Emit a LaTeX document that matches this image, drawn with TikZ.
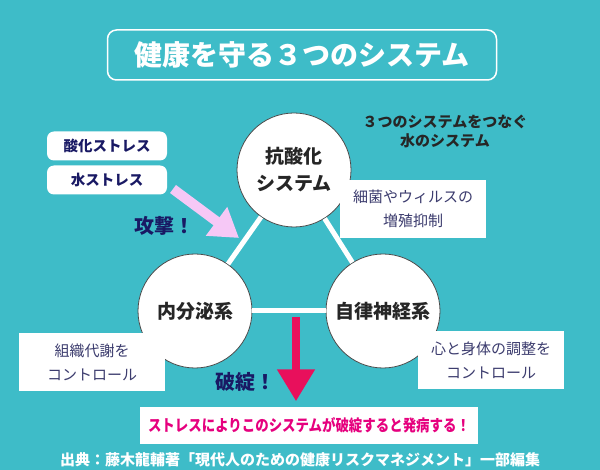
\documentclass[tikz,border=0pt]{standalone}
\usepackage{fontspec}
\setmainfont{Noto Sans CJK JP}
\newfontfamily\narrowjp{Noto Sans CJK JP}[FakeStretch=0.84]
\usepackage{xcolor}
\usetikzlibrary{positioning,arrows.meta}

\definecolor{bgteal}{RGB}{62,188,200}
\definecolor{navy}{RGB}{25,25,100}
\definecolor{inkgray}{RGB}{38,38,38}
\definecolor{boxink}{RGB}{60,60,110}
\definecolor{attackpink}{RGB}{246,200,246}
\definecolor{breakred}{RGB}{232,16,92}
\definecolor{msgpink}{RGB}{230,0,126}

\tikzset{
  sysnode/.style={circle, draw=gray!60!black, line width=0.8, fill=white,
    minimum size=114, inner sep=0, align=center, text=inkgray,
    font=\bfseries\fontsize{19}{27}\selectfont},
  link/.style={white, line width=5},
  stressbox/.style={rounded corners=7, fill=white, minimum width=120,
    minimum height=29, inner sep=0, text=navy,
    font=\bfseries\fontsize{14.5}{16}\selectfont},
  rolebox/.style={fill=white, align=center, text=boxink, minimum width=146,
    minimum height=58, inner sep=0, font=\fontsize{15}{24}\selectfont},
  shout/.style={text=navy, font=\bfseries\fontsize{20}{22}\selectfont},
}

\begin{document}
\begin{tikzpicture}[x=1pt, y=-1pt]
% background, same size as the reference
\fill[bgteal] (0,0) rectangle (600,470);
\useasboundingbox (0,0) rectangle (600,470);
% title
\node[draw=white, line width=1.5, rounded corners=9, minimum width=389,
  minimum height=50, text=white, font=\bfseries\fontsize{28}{30}\selectfont]
  (title) at (302,55) {健康を守る３つのシステム};
% the three systems
\node[sysnode] (antiox) at (294,170) {抗酸化\\システム};
\node[sysnode] (endo) at (195,311) {内分泌系};
\node[sysnode] (auto) at (383,311) {自律神経系};
\draw[link] (antiox) -- (endo);
\draw[link] (antiox) -- (auto);
\draw[link] (endo) -- (auto);
\node[text=inkgray, align=center, font=\bfseries\fontsize{15}{19}\selectfont]
  (water) at (445,131) {３つのシステムをつなぐ\\水のシステム};
% stresses attack
\node[stressbox] (oxstress) at (107,146) {酸化ストレス};
\node[stressbox] (wstress) at (107,180) {水ストレス};
\coordinate (atk0) at (173,189);
\coordinate (atk1) at (239,238);
\draw[attackpink, line width=10, -{Triangle[length=28pt,width=34pt]}] (atk0) -- (atk1);
\node[shout] (attack) at (164,226) {攻撃！};
% roles of each system
\node[rolebox] (germ) at (413,209) {細菌やウィルスの\\増殖抑制};
\node[rolebox] (metab) at (92,362) {組織代謝を\\コントロール};
\node[rolebox] (mind) at (491,360) {心と身体の調整を\\コントロール};
% breakdown
\node[fill=white, minimum width=338, minimum height=37, inner sep=0,
  text=msgpink, font=\narrowjp\bfseries\fontsize{16}{18}\selectfont]
  (msg) at (309,425) {ストレスによりこのシステムが破綻すると発病する！};
\coordinate (brk) at (296,317);
\draw[breakred, line width=8, -{Triangle[length=32pt,width=36pt]}, shorten >=5pt] (brk) -- (brk |- msg.north);
\node[shout] (break) at (245,382) {破綻！};
% source
\node[text=white, font=\bfseries\fontsize{15}{16}\selectfont] (source) at (300,460)
  {出典：藤木龍輔著「現代人のための健康リスクマネジメント」一部編集};
\end{tikzpicture}
\end{document}
